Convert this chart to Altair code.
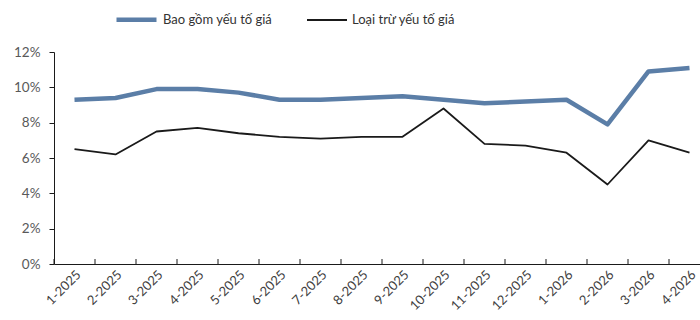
import altair as alt
import pandas as pd

months = ["1-2025", "2-2025", "3-2025", "4-2025", "5-2025", "6-2025", "7-2025", "8-2025",
          "9-2025", "10-2025", "11-2025", "12-2025", "1-2026", "2-2026", "3-2026", "4-2026"]
bao_gom = [9.3, 9.4, 9.9, 9.9, 9.7, 9.3, 9.3, 9.4, 9.5, 9.3, 9.1, 9.2, 9.3, 7.9, 10.9, 11.1]
loai_tru = [6.5, 6.2, 7.5, 7.7, 7.4, 7.2, 7.1, 7.2, 7.2, 8.8, 6.8, 6.7, 6.3, 4.5, 7.0, 6.3]
series = ["Bao gồm yếu tố giá", "Loại trừ yếu tố giá"]

rows = []
for m, a, b in zip(months, bao_gom, loai_tru):
    rows.append({"month": m, "series": series[0], "value": a / 100})
    rows.append({"month": m, "series": series[1], "value": b / 100})
df = pd.DataFrame(rows)
df_months = pd.DataFrame({"month": months})

FONT = "Lato"
xscale = alt.Scale(domain=months, paddingInner=0, paddingOuter=0, range=[0, 656])
yscale = alt.Scale(domain=[0, 0.12])

leg = dict(title=None, orient="none", legendX=60, legendY=-55,
           direction="horizontal", symbolType="stroke",
           symbolSize=1600, labelFontSize=13, labelFont=FONT,
           labelColor="#333333", columnPadding=30, labelOffset=4)

lines = alt.Chart(df).mark_line(strokeJoin="round", strokeCap="butt").encode(
    x=alt.X("month:N", sort=months, scale=xscale,
            axis=alt.Axis(title=None, ticks=False, labelAngle=-45, labelAlign="right",
                          labelBaseline="top", labelPadding=4, labelFontSize=13,
                          labelColor="#404040", labelFont=FONT, domainColor="#1a1a1a",
                          orient="bottom", grid=False)),
    y=alt.Y("value:Q", scale=yscale,
            axis=alt.Axis(title=None, format=".0%", values=[0, 0.02, 0.04, 0.06, 0.08, 0.10, 0.12],
                          tickSize=5, tickColor="#1a1a1a", domainColor="#1a1a1a",
                          labelFontSize=13.5, labelColor="#595959", labelFont=FONT,
                          labelPadding=9, grid=False)),
    color=alt.Color("series:N", scale=alt.Scale(domain=series, range=["#5b7ea7", "#1a1a1a"]),
                    legend=alt.Legend(**leg)),
    strokeWidth=alt.StrokeWidth("series:N", scale=alt.Scale(domain=series, range=[4.5, 1.8]),
                                legend=alt.Legend(**leg)),
)

ticks = alt.Chart(df_months).mark_rule(color="#1a1a1a", strokeWidth=1).encode(
    x=alt.X("month:N", sort=months, scale=xscale, bandPosition=0),
    y=alt.value(207),
    y2=alt.value(212),
)

chart = alt.layer(lines, ticks).properties(
    width=646, height=212,
    autosize=alt.AutoSizeParams(type="none"),
    padding={"left": 54, "top": 52, "right": 0, "bottom": 56},
).configure_view(stroke=None)

chart.save("out.html", embed_options={"renderer": "svg", "actions": False})
